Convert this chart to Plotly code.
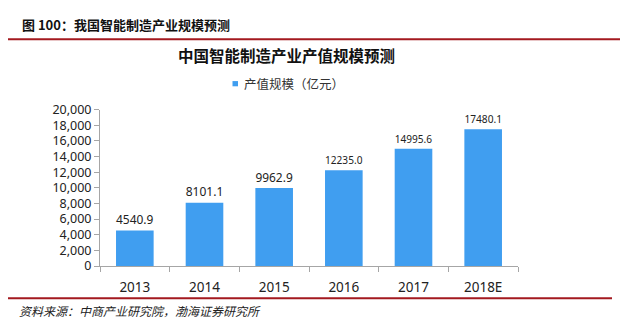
import plotly.graph_objects as go

# Output value of China's intelligent manufacturing industry (100 million yuan)
years = ["2013", "2014", "2015", "2016", "2017", "2018E"]
values = [4540.9, 8101.1, 9962.9, 12235.0, 14995.6, 17480.1]
series_name = "产值规模（亿元）"
y_ticks = [0, 2000, 4000, 6000, 8000, 10000, 12000, 14000, 16000, 18000, 20000]

W, H = 629, 330
FONT = "Noto Sans CJK SC"
NUM_FONT = "Noto Sans, Noto Sans CJK SC"
BAR_COLOR = "#409EF0"
RED = "#A3191F"


def px(x):
    return x / W


def py(y):
    return 1 - y / H


fig = go.Figure()
fig.add_trace(go.Bar(
    x=years,
    y=values,
    name=series_name,
    marker=dict(color=BAR_COLOR, line=dict(width=0)),
    texttemplate="%{y:.1f}",
    textposition="outside",
    cliponaxis=False,
    textfont=dict(family=NUM_FONT, size=13.5, color="#222222"),
    showlegend=False,
))

fig.update_layout(
    width=W, height=H,
    margin=dict(l=0, r=0, t=0, b=0),
    paper_bgcolor="white",
    plot_bgcolor="white",
    bargap=0.46,
    font=dict(family=FONT, size=12, color="#222222"),
    xaxis=dict(
        domain=[px(100), px(518)],
        type="category",
        showline=True, linecolor="#A6A6A6", linewidth=1,
        ticks="outside", tickson="boundaries", ticklen=5, tickcolor="#A6A6A6",
        showgrid=False,
        ticklabelstandoff=9,
        tickfont=dict(family=NUM_FONT, size=13.5, color="#222222"),
    ),
    yaxis=dict(
        domain=[py(271), py(106)],
        range=[0, 20000],
        tickvals=y_ticks,
        tickformat=",d",
        showline=True, linecolor="#A6A6A6", linewidth=1,
        ticks="outside", ticklen=5, tickcolor="#A6A6A6",
        showgrid=False, zeroline=False,
        tickfont=dict(family=NUM_FONT, size=12.5, color="#222222"),
    ),
)

# Series key: small square swatch with its label
fig.add_shape(type="rect", xref="paper", yref="paper",
              x0=px(232.5), x1=px(238), y0=py(81.5), y1=py(76),
              fillcolor=BAR_COLOR, line=dict(width=0))
fig.add_annotation(
    x=px(242), y=py(79), xref="paper", yref="paper",
    xanchor="left", yanchor="middle", showarrow=False,
    text=series_name,
    font=dict(family=FONT, size=12.5, color="#333333"),
)

# Report header, chart title and source footer
fig.add_annotation(
    x=px(20), y=py(16), xref="paper", yref="paper",
    xanchor="left", yanchor="middle", showarrow=False,
    text="<b>图 100：我国智能制造产业规模预测</b>",
    font=dict(family=FONT, size=13, color="#111111"),
)
fig.add_annotation(
    x=px(286), y=py(49), xref="paper", yref="paper",
    xanchor="center", yanchor="middle", showarrow=False,
    text="<b>中国智能制造产业产值规模预测</b>",
    font=dict(family=FONT, size=15.5, color="#111111"),
)
fig.add_annotation(
    x=px(17), y=py(318), xref="paper", yref="paper",
    xanchor="left", yanchor="middle", showarrow=False,
    text="<i>资料来源：中商产业研究院，渤海证券研究所</i>",
    font=dict(family=FONT, size=12, color="#222222"),
)

fig.add_shape(type="line", xref="paper", yref="paper",
              x0=px(8), x1=px(620), y0=py(32), y1=py(32),
              line=dict(color=RED, width=2))
fig.add_shape(type="line", xref="paper", yref="paper",
              x0=px(8), x1=px(612), y0=py(305), y1=py(305),
              line=dict(color=RED, width=2))

fig.write_html("out.html")
